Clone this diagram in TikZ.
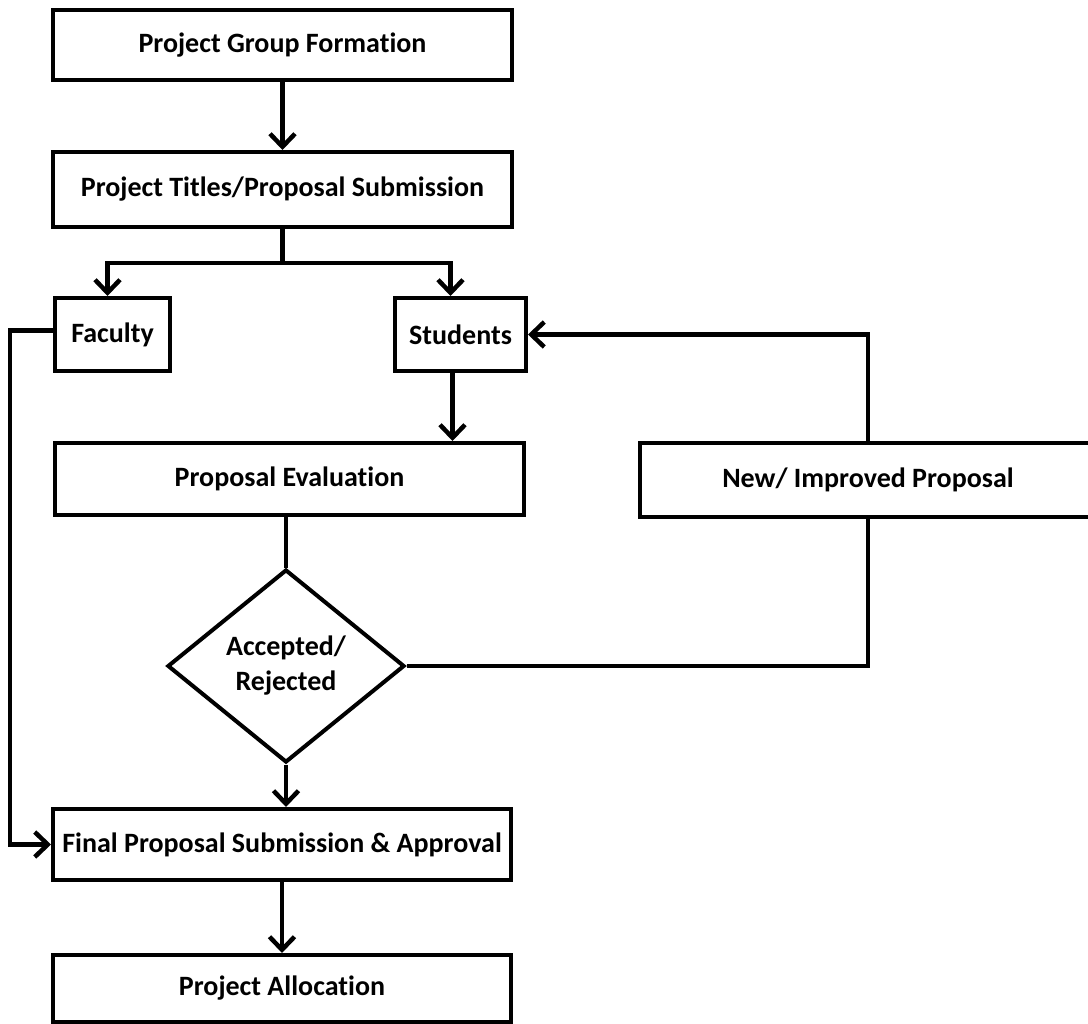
\documentclass[tikz,border=0pt]{standalone}
\usepackage{fontspec}
\setmainfont{Carlito}[RawFeature={-liga}]
\usetikzlibrary{arrows.meta,shapes.geometric}
\begin{document}
\begin{tikzpicture}[x=1pt,y=-1pt,
  box/.style={draw,line width=4pt,rectangle,inner sep=0pt,fill=white,
    font=\bfseries\fontsize{28}{35}\selectfont,align=center},
  conn/.style={line width=4.5pt},
  arr/.style={conn,-{Straight Barb[length=13pt,width=25pt]}}]
\useasboundingbox (0,0) rectangle (1088,1024);
\clip (0,0) rectangle (1088,1024);
\node[box,minimum width=459pt,minimum height=70pt] (pgf) at (282.5,45) {Project Group Formation};
\node[box,minimum width=459pt,minimum height=75pt] (pts) at (282.5,189.5) {Project Titles/Proposal Submission};
\node[box,minimum width=115pt,minimum height=73pt] (fac) at (112.5,334.5) {Faculty};
\node[box,minimum width=131pt,minimum height=73pt] (stu) at (460.5,334.5) {Students};
\node[box,minimum width=469pt,minimum height=72pt] (eval) at (289.5,479) {Proposal Evaluation};
\node[box,minimum width=456pt,minimum height=74pt] (new) at (868,480) {New/ Improved Proposal};
\node[box,shape=diamond,minimum width=237pt,minimum height=193pt] (dia) at (286,666) {Accepted/\\Rejected};
\node[box,minimum width=458pt,minimum height=71pt] (fin) at (282,844.5) {Final Proposal Submission \& Approval};
\node[box,minimum width=458pt,minimum height=67pt] (alloc) at (282,988.5) {Project Allocation};

\draw[arr] (pgf.south) -- (pts.north);
\coordinate (split) at (282.5,263);
\draw[conn] (pts.south) -- (split);
\draw[arr] (split) -| ([xshift=-5pt]fac.north);
\draw[arr] (split) -| ([xshift=-10pt]stu.north);
\draw[arr] ([xshift=-8pt]stu.south) -- ([xshift=-8pt]stu.south |- eval.north);
\draw[arr] (new.north) |- (stu.east);
\draw[conn] (dia.north |- eval.south) -- (dia.north);
\draw[conn] (dia.east) -| (new.south);
\draw[arr] (dia.south) -- (dia.south |- fin.north);
\draw[arr] ([yshift=4pt]fac.west) -- ++(-43,0) |- (fin.west);
\draw[arr] (fin.south) -- (alloc.north);
\end{tikzpicture}
\end{document}
